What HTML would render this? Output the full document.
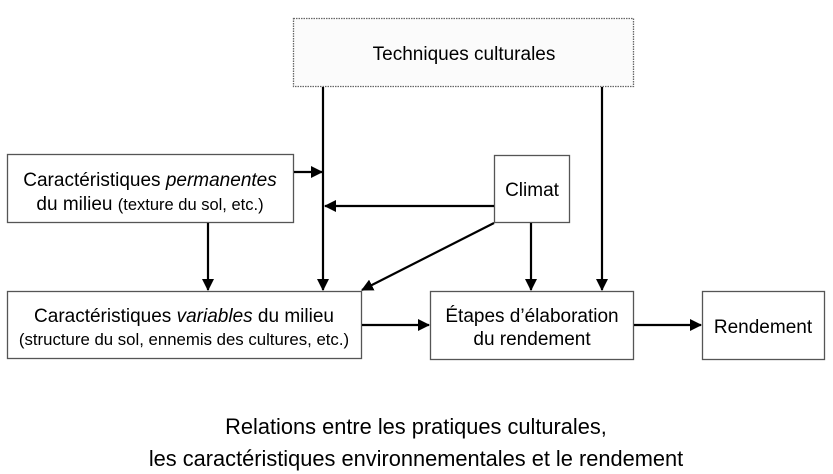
<!DOCTYPE html>
<html><head><meta charset="utf-8"><style>
html,body{margin:0;padding:0;background:#fff;}
svg{display:block;font-family:"Liberation Sans",sans-serif;}
</style></head><body>
<svg width="833" height="474" viewBox="0 0 833 474" xmlns="http://www.w3.org/2000/svg">
<defs>
<marker id="a" markerWidth="12" markerHeight="12" refX="11" refY="6" orient="auto" markerUnits="userSpaceOnUse">
<path d="M0,0 L12,6 L0,12 z" fill="#000"/></marker>
</defs>
<g fill="#fff" stroke="#555" stroke-width="1.3">
<rect x="293.5" y="18.5" width="340" height="68" fill="#fbfbfb" stroke="#666" stroke-dasharray="1.5,1"/>
<rect x="7.5" y="154.5" width="286" height="68"/>
<rect x="494.5" y="155.5" width="75" height="67"/>
<rect x="7.5" y="291.5" width="354" height="67"/>
<rect x="430.5" y="291.5" width="203" height="68"/>
<rect x="702.5" y="291.5" width="122" height="68"/>
</g>
<g stroke="#000" stroke-width="2.2" fill="none">
<line x1="323" y1="87" x2="323" y2="290" marker-end="url(#a)"/>
<line x1="602" y1="87" x2="602" y2="290" marker-end="url(#a)"/>
<line x1="294" y1="172" x2="322" y2="172" marker-end="url(#a)"/>
<line x1="494" y1="206" x2="325" y2="206" marker-end="url(#a)"/>
<line x1="208" y1="223" x2="208" y2="290" marker-end="url(#a)"/>
<line x1="494" y1="223" x2="362" y2="290" marker-end="url(#a)"/>
<line x1="531" y1="223" x2="531" y2="290" marker-end="url(#a)"/>
<line x1="362" y1="325" x2="429" y2="325" marker-end="url(#a)"/>
<line x1="634" y1="325" x2="701" y2="325" marker-end="url(#a)"/>
</g>
<g font-size="19" fill="#000" text-anchor="middle">
<text x="464" y="60">Techniques culturales</text>
<text x="150" y="186">Caractéristiques <tspan font-style="italic">permanentes</tspan></text>
<text x="150" y="210">du milieu <tspan font-size="16.5">(texture du sol, etc.)</tspan></text>
<text x="532" y="196">Climat</text>
<text x="184" y="322">Caractéristiques <tspan font-style="italic">variables</tspan> du milieu</text>
<text x="184" y="345" font-size="16.8">(structure du sol, ennemis des cultures, etc.)</text>
<text x="532" y="322">Étapes d’élaboration</text>
<text x="532" y="345">du rendement</text>
<text x="763" y="333">Rendement</text>
<text x="416" y="434" font-size="21.8">Relations entre les pratiques culturales,</text>
<text x="416" y="466" font-size="21.8">les caractéristiques environnementales et le rendement</text>
</g>
</svg>
</body></html>
